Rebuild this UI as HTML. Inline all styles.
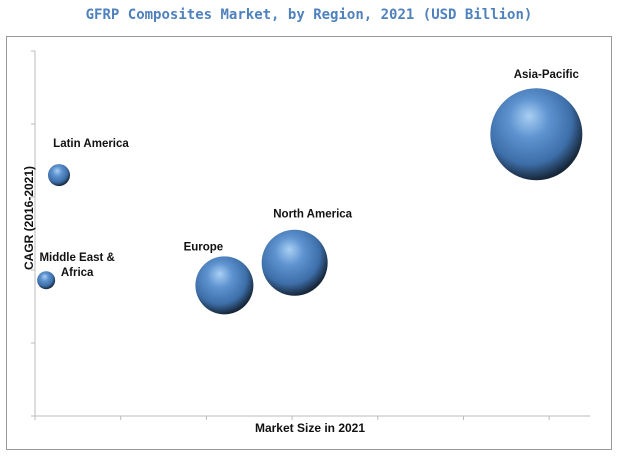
<!DOCTYPE html>
<html><head><meta charset="utf-8"><style>
body{margin:0;background:#fff;width:620px;height:463px;overflow:hidden;font-family:"Liberation Sans",sans-serif}
</style></head><body>
<svg id="chart" width="620" height="463">
<defs>
<radialGradient id="ball" cx="0.42" cy="0.38" r="0.62" fx="0.42" fy="0.3">
<stop offset="0" stop-color="#a9cff3"/>
<stop offset="0.35" stop-color="#5e93d0"/>
<stop offset="0.75" stop-color="#3d6ea8"/>
<stop offset="1" stop-color="#17273a"/>
</radialGradient>
</defs>
<text x="309" y="19" text-anchor="middle" font-family="'DejaVu Sans Mono','Liberation Mono',monospace" font-weight="bold" font-size="14" fill="#4f81bd">GFRP Composites Market, by Region, 2021 (USD Billion)</text>
<rect x="6.5" y="36.5" width="605" height="413" fill="none" stroke="#999" stroke-width="1"/>
<g id="axes"></g>
<g id="bubbles"></g>
<text x="310" y="432" text-anchor="middle" font-weight="bold" font-size="12" fill="#111">Market Size in 2021</text>
<text transform="translate(33,218) rotate(-90)" text-anchor="middle" font-weight="bold" font-size="12" fill="#111">CAGR (2016-2021)</text>
</svg>
<script>
const regions=["Latin America","Middle East & Africa","Europe","North America","Asia-Pacific"];
const marketSize=[0.28,0.13,2.21,3.03,5.85];
const cagr=[3.30,1.86,1.79,2.10,3.86];
const bubbleSize=[11,9,29,33,46];
const xTicks=[0,1,2,3,4,5,6];
const yTicks=[0,1,2,3,4,5];
const ns="http://www.w3.org/2000/svg";
const X0=35,XU=85.7,Y0=416,YU=73;
const xs=v=>X0+v*XU, ys=v=>Y0-v*YU;
function mk(t,a,p){const e=document.createElementNS(ns,t);for(const k in a)e.setAttribute(k,a[k]);p.appendChild(e);return e;}
const ax=document.getElementById('axes');
const yl=mk('line',{x1:X0,y1:ys(5),x2:X0,y2:Y0,stroke:'#bbb'},ax);


const xl=mk('line',{x1:X0,y1:Y0,x2:590,y2:Y0,stroke:'#bbb'},ax);


xTicks.forEach(t=>{const l=mk('line',{x1:xs(t),y1:Y0,x2:xs(t),y2:Y0+4,stroke:'#bbb'},ax);

});
yTicks.forEach(t=>{const l=mk('line',{x1:X0-4,y1:ys(t),x2:X0,y2:ys(t),stroke:'#bbb'},ax);

});
const bg=document.getElementById('bubbles');
// label offsets relative to bubble centre
const labelDx=[32,31,-21,18,10];
const labelDy=[-28,-19,-35,-45,-56];
regions.forEach((r,i)=>{
const cx=xs(marketSize[i]),cy=ys(cagr[i]),rad=bubbleSize[i];
const c=mk('circle',{cx:cx,cy:cy,r:rad,fill:'url(#ball)'},bg);


const lx=cx+labelDx[i], ly=cy+labelDy[i];
const t=mk('text',{x:lx,y:ly,'text-anchor':'middle','font-weight':'bold','font-size':'11.5',fill:'#111'},bg);


if(r==="Middle East & Africa"){
 const a=mk('tspan',{x:lx,dy:0},t);a.textContent="Middle East &";
 const b=mk('tspan',{x:lx,dy:15},t);b.textContent="Africa";
}else t.textContent=r;
});
</script>
</body></html>
